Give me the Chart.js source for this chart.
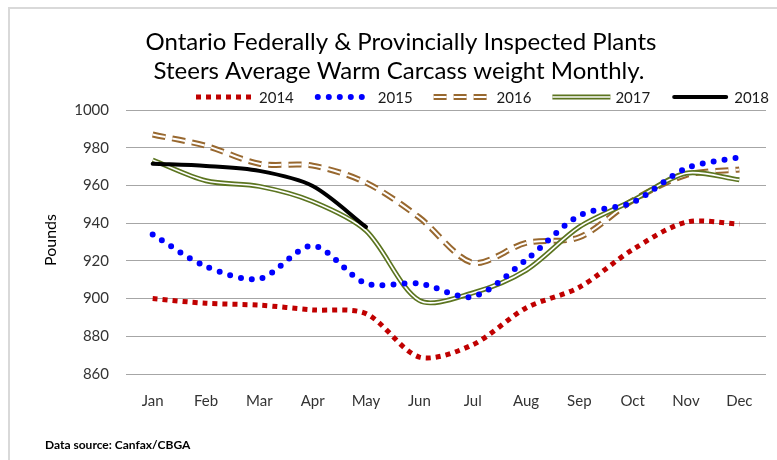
<!DOCTYPE html>
<html><head><meta charset="utf-8">
<script src="https://cdn.jsdelivr.net/npm/chart.js@4.4.0/dist/chart.umd.min.js"></script>
<style>
html,body{margin:0;padding:0;background:#fff;}
#wrap{position:relative;width:777px;height:460px;overflow:hidden;}
#frame{position:absolute;left:8px;top:7px;width:800px;height:500px;border-left:2px solid #d9d9d9;border-top:2px solid #d9d9d9;}
canvas{position:absolute;left:0;top:0;}
</style></head>
<body><div id="wrap"><div id="frame"></div><canvas id="c" width="777" height="460"></canvas></div>
<script>
const months = ["Jan","Feb","Mar","Apr","May","Jun","Jul","Aug","Sep","Oct","Nov","Dec"];
const yTicks = [860,880,900,920,940,960,980,1000];
const titleLines = ["Ontario Federally & Provincially Inspected Plants","Steers Average Warm Carcass weight Monthly."];
const s2014 = [900,897.5,896.5,894,892,869,875.5,895,906,926,940.5,939.5];
const s2015 = [934,917,910.5,928,908,908,901,920.5,944,951,969,975];
const s2016 = [987,981,971.5,970.5,961.5,943,919,929.5,932.5,952,965.5,968.5];
const s2017 = [973.5,962.5,959.5,951.5,936,899,903,915,938,952,966.5,963];
const s2018 = [971.5,970.3,967.7,959.7,938,null,null,null,null,null,null,null];
const seriesNames = ["2014","2015","2016","2017","2018"];

const FONT = "Lato, 'Open Sans', sans-serif";
const styles = {
  "2014": {color:"#c00000", width:5, dash:[5,5], cap:"butt"},
  "2015": {color:"#0000ff", width:6, dash:[0,11], cap:"round"},
  "2016": {color:"#98682f", width:6, dash:[13,7], cap:"butt", inner:2},
  "2017": {color:"#5c7520", width:5, dash:[], cap:"butt", inner:1.6},
  "2018": {color:"#000000", width:4, dash:[], cap:"round"}
};
const dataBy = {"2014":s2014,"2015":s2015,"2016":s2016,"2017":s2017,"2018":s2018};
const drawOrder = {"2014":9,"2015":3,"2016":7,"2017":5,"2018":1};

const datasets = [];
seriesNames.forEach(n=>{
  const st = styles[n];
  datasets.push({label:n, data:dataBy[n], borderColor:st.color, borderWidth:st.width,
    borderDash:st.dash, borderCapStyle:st.cap, borderJoinStyle:"round", tension:0.3,
    pointRadius:0, fill:false, spanGaps:false, order:drawOrder[n]});
  if(st.inner){
    datasets.push({label:n+"_inner", data:dataBy[n], borderColor:"#ffffff", borderWidth:st.inner,
      borderDash:st.dash, borderCapStyle:st.cap, borderJoinStyle:"round", tension:0.3,
      pointRadius:0, fill:false, order:drawOrder[n]-1});
  }
});

const decor = {
  id:"decor",
  afterDraw(chart){
    const ctx = chart.ctx;
    ctx.save();
    ctx.fillStyle = "#000";
    ctx.textAlign = "center"; ctx.textBaseline = "middle";
    ctx.font = "24px " + FONT;
    ctx.fillText(titleLines[0], 401, 42);
    ctx.fillText(titleLines[1], 399, 71);
    // legend
    ctx.font = "15px " + FONT;
    ctx.textAlign = "left";
    let x = 196; const y = 97;
    seriesNames.forEach(n=>{
      const st = styles[n];
      const len = 58;
      ctx.save();
      ctx.strokeStyle = st.color; ctx.lineWidth = st.width; ctx.setLineDash(st.dash); ctx.lineCap = st.cap;
      const x0 = x + (st.cap==="round"?3:0), x1 = x + len - (st.cap==="round"?3:0);
      ctx.beginPath(); ctx.moveTo(x0, y); ctx.lineTo(x1, y); ctx.stroke();
      if(st.inner){ ctx.strokeStyle="#fff"; ctx.lineWidth=st.inner; ctx.beginPath(); ctx.moveTo(x,y); ctx.lineTo(x+len,y); ctx.stroke(); }
      ctx.restore();
      ctx.fillStyle = "#1a1a1a";
      ctx.fillText(n, x+len+5, y+1);
      x += len + 5 + ctx.measureText(n).width + 21;
    });
    // axis title
    ctx.save();
    ctx.translate(51, 240); ctx.rotate(-Math.PI/2);
    ctx.textAlign="center"; ctx.fillStyle="#000"; ctx.font = "16px " + FONT;
    ctx.fillText("Pounds", 0, 0);
    ctx.restore();
    ctx.font = "bold 12px " + FONT; ctx.textAlign="left"; ctx.fillStyle="#000";
    ctx.fillText("Data source: Canfax/CBGA", 45, 445);
    ctx.restore();
  }
};

new Chart(document.getElementById("c"), {
  type:"line",
  data:{labels:months, datasets},
  options:{
    responsive:false, animation:false, devicePixelRatio:1,
    layout:{padding:{left:0,right:11,top:110,bottom:0}},
    plugins:{legend:{display:false}, title:{display:false}, tooltip:{enabled:false}},
    scales:{
      x:{type:"category", offset:true,
        grid:{display:false, drawTicks:false},
        border:{display:false},
        ticks:{color:"#333", font:{family:FONT,size:15}, padding:18, maxRotation:0},
        afterFit(s){ s.height = 86; }
      },
      y:{min:860, max:1000,
        afterBuildTicks(s){ s.ticks = yTicks.map(v=>({value:v})); },
        grid:{color:"#a6a6a6", lineWidth:1, drawTicks:false},
        border:{display:false},
        ticks:{color:"#333", font:{family:FONT,size:15}, padding:17, callback:(v)=>String(v)},
        afterFit(s){ s.width = 126; }
      }
    }
  },
  plugins:[decor]
});
</script></body></html>
